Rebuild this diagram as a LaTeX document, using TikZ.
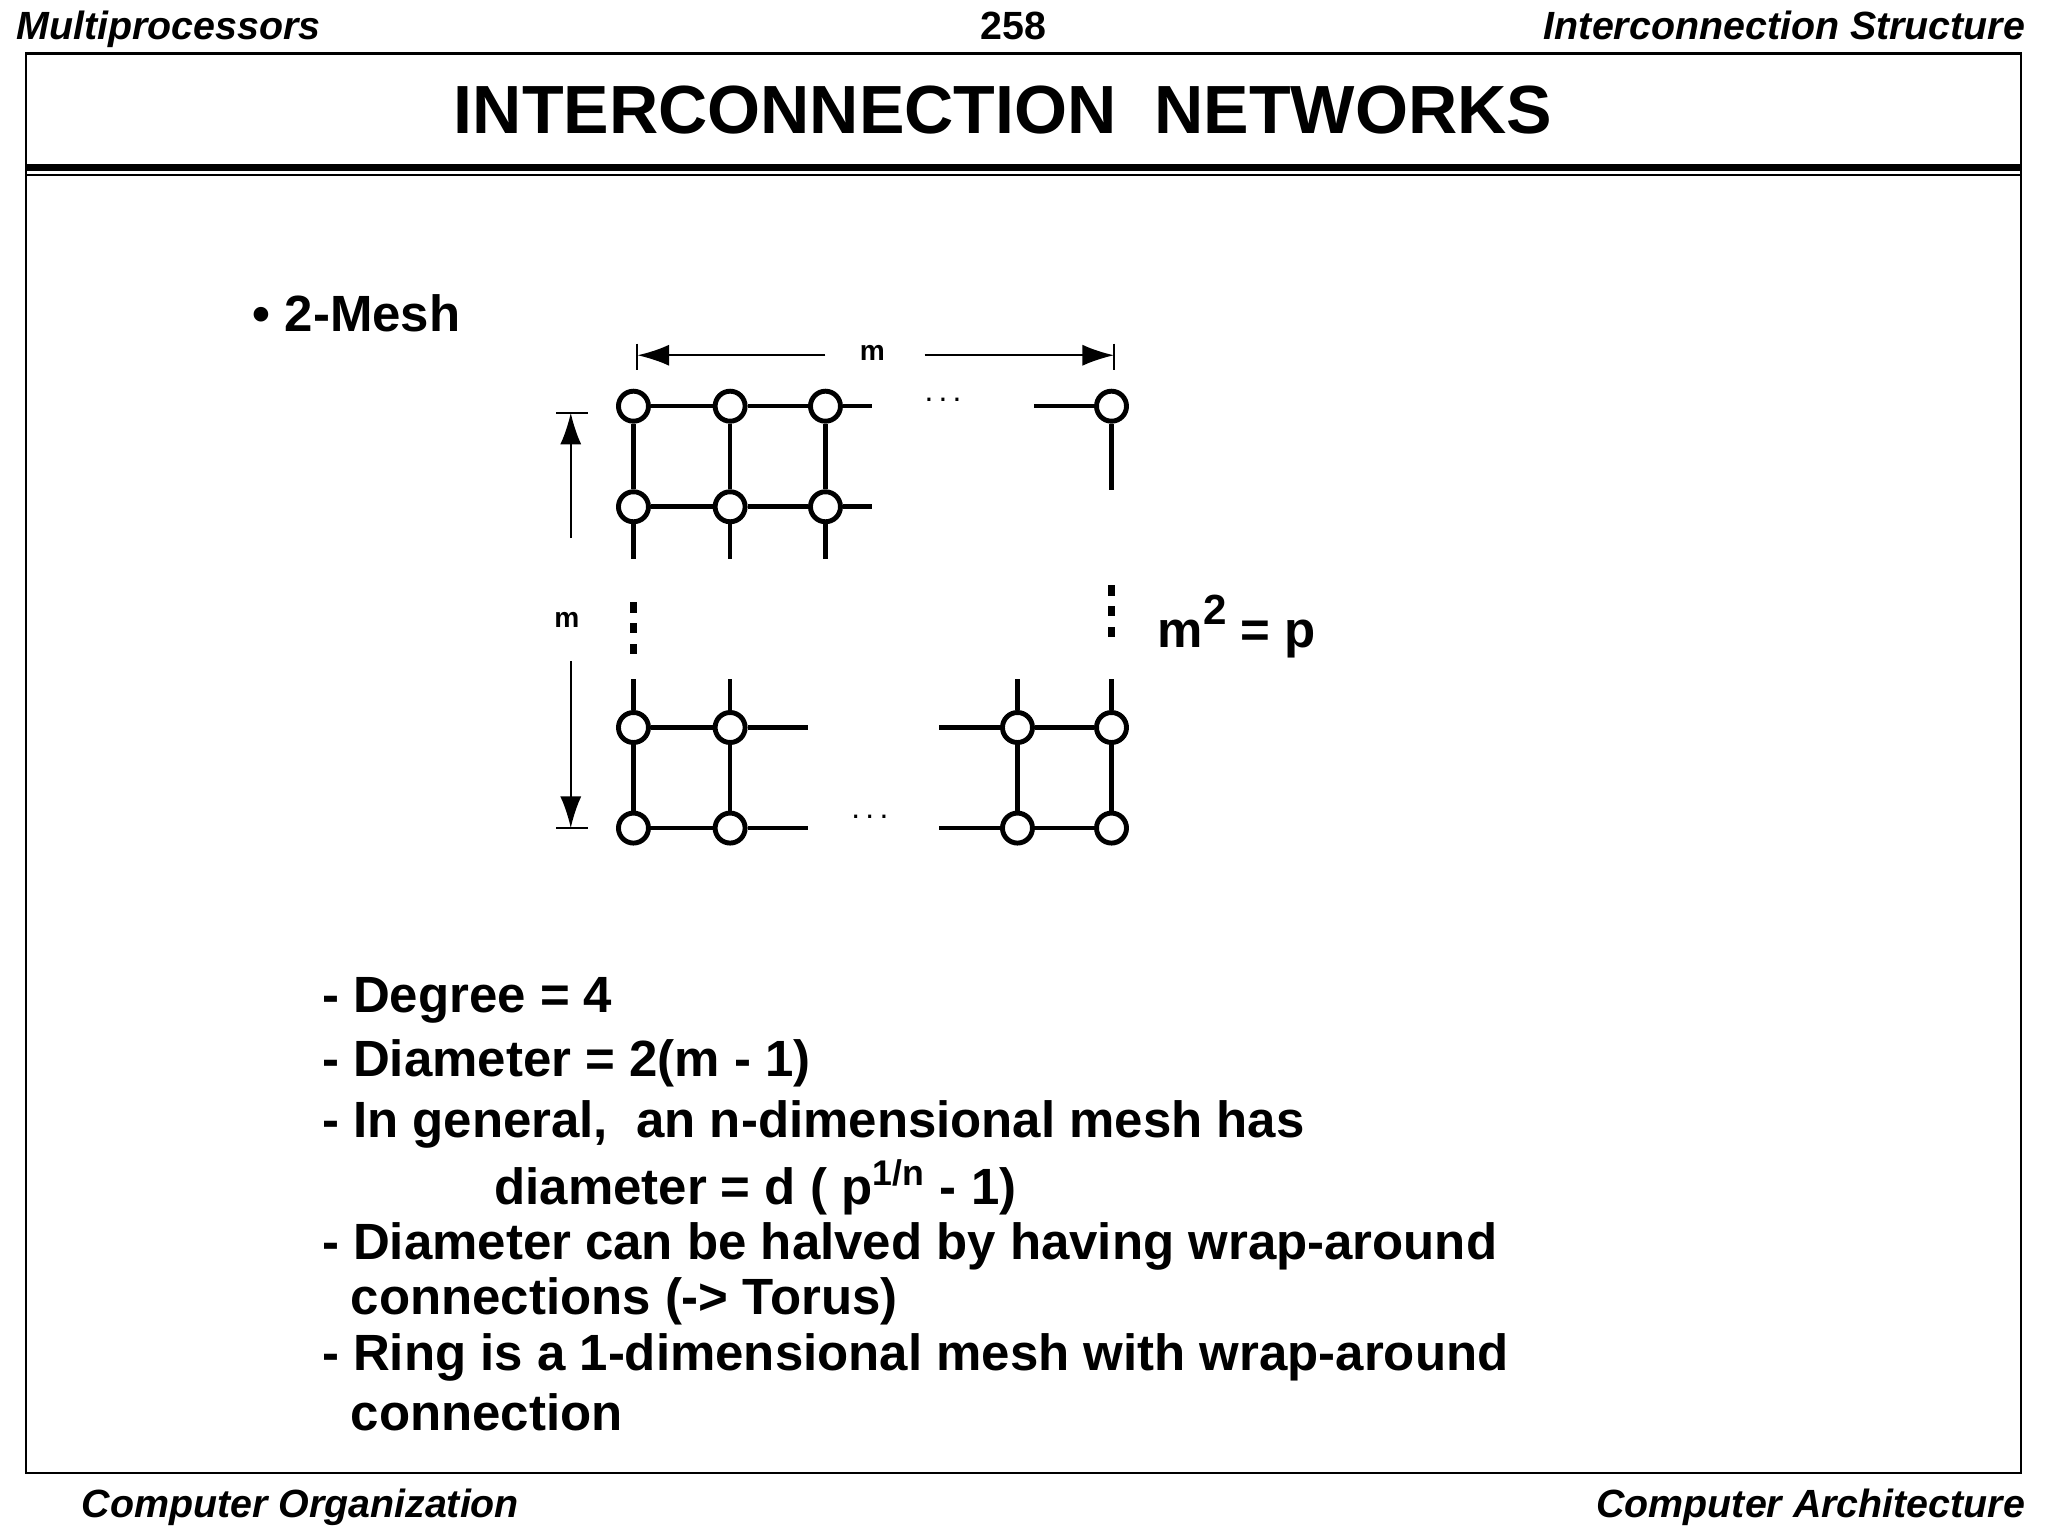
\documentclass[tikz,border=0pt]{standalone}
\usepackage{fontspec}
\setmainfont{Liberation Sans}
\usetikzlibrary{arrows.meta}
\begin{document}
\begin{tikzpicture}[x=0.013061cm, y=-0.013061cm,
    pe/.style={circle, draw, line width=1.4pt, fill=white, inner sep=0pt, minimum size=0.3cm},
    link/.style={line width=1.3pt},
    dim/.style={line width=0.6pt},
    txt/.style={font=\fontsize{14.5}{16}\selectfont\bfseries, anchor=west, inner sep=0pt},
    hdr/.style={font=\fontsize{11.2}{13}\selectfont\bfseries\itshape, inner sep=0pt}]
  \useasboundingbox (0,0) rectangle (1568,1176);
  % header and frame
  \node[hdr, anchor=base west] (hl) at (12,30) {Multiprocessors};
  \node[hdr, anchor=base, font=\fontsize{11.2}{13}\selectfont\bfseries] (hc) at (776,30) {258};
  \node[hdr, anchor=base east] (hr) at (1551,30) {Interconnection Structure};
  \draw[line width=0.6pt] (20,41) rectangle (1547,1128);
  \node[font=\fontsize{19.4}{21}\selectfont\bfseries] (title) at (768,84) {INTERCONNECTION\ \ NETWORKS};
  \draw[line width=2pt] (20,128) -- (1547,128);
  \draw[line width=0.8pt] (20,134) -- (1547,134);
  \node[hdr, anchor=base west] (fl) at (62,1162) {Computer Organization};
  \node[hdr, anchor=base east] (fr) at (1551,1162) {Computer Architecture};
  % mesh
  \node[txt] (mesh) at (193,240) {\textbullet\ 2-Mesh};
  \foreach \c/\x in {1/485,2/559,3/632} {
    \node[pe] (a\c) at (\x,311) {};
    \node[pe] (b\c) at (\x,388) {};
  }
  \node[pe] (a4) at (851,311) {};
  \foreach \c/\x in {1/485,2/559,3/779,4/851} {
    \node[pe] (c\c) at (\x,557) {};
    \node[pe] (d\c) at (\x,634) {};
  }
  \draw[link] (a1) -- (a2) -- (a3) -- (668,311);
  \draw[link] (b1) -- (b2) -- (b3) -- (668,388);
  \draw[link] (792,311) -- (a4);
  \draw[link] (a4) -- (851,375);
  \foreach \c/\x in {1/485,2/559,3/632} {
    \draw[link] (a\c) -- (b\c) -- (\x,428);
  }
  \foreach \c/\x in {1/485,2/559,3/779,4/851} {
    \draw[link] (\x,520) -- (c\c) -- (d\c);
  }
  \draw[link] (c1) -- (c2) -- (619,557);
  \draw[link] (d1) -- (d2) -- (619,634);
  \draw[link] (719,557) -- (c3) -- (c4);
  \draw[link] (719,634) -- (d3) -- (d4);
  \foreach \y in {465,481,497} {
    \fill (482,\y-4) rectangle (488,\y+4);
  }
  \foreach \y in {452,468,484} {
    \fill (848,\y-4) rectangle (854,\y+4);
  }
  \node[font=\fontsize{9}{10}\selectfont] (hdots) at (722,306) {.\,.\,.};
  \node[font=\fontsize{9}{10}\selectfont] (bdots) at (666,625) {.\,.\,.};
  % dimensions
  \draw[dim] (488,263) -- (488,283);
  \draw[dim] (853,263) -- (853,283);
  \node[font=\fontsize{8}{9}\selectfont\bfseries] (mh) at (668,270) {m};
  \draw[dim, -{Latex[length=9pt,width=6pt]}] (632,272) -- (488,272);
  \draw[dim, -{Latex[length=9pt,width=6pt]}] (708,272) -- (853,272);
  \draw[dim] (426,316) -- (450,316);
  \draw[dim] (426,634) -- (450,634);
  \node[font=\fontsize{8}{9}\selectfont\bfseries] (mv) at (434,475) {m};
  \draw[dim, -{Latex[length=9pt,width=6pt]}] (437,412) -- (437,316);
  \draw[dim, -{Latex[length=9pt,width=6pt]}] (437,506) -- (437,634);
  \node[txt] (mp) at (886,480) {m\raisebox{0.45em}{\fontsize{12}{13}\selectfont 2} = p};
  % properties
  \node[txt] (l1) at (246,766) {- Degree = 4};
  \node[txt] (l2) at (246,814) {- Diameter = 2(m - 1)};
  \node[txt] (l3) at (246,861) {- In general,\ \ an n-dimensional mesh has};
  \node[txt] (l4) at (378,909) {diameter = d ( p\textsuperscript{1/n} - 1)};
  \node[txt] (l5) at (246,954) {- Diameter can be halved by having wrap-around};
  \node[txt] (l6) at (268,996) {connections (-> Torus)};
  \node[txt] (l7) at (246,1039) {- Ring is a 1-dimensional mesh with wrap-around};
  \node[txt] (l8) at (268,1081) {connection};
\end{tikzpicture}
\end{document}
